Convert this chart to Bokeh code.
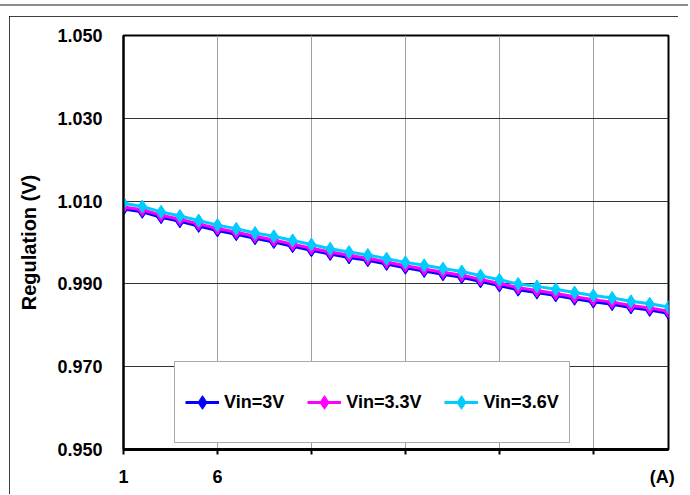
from bokeh.plotting import figure
from bokeh.models import Range1d, FixedTicker, Legend, LegendItem, LinearAxis
from bokeh.embed import file_html
from bokeh.resources import INLINE

# ---- data ----
load_current = list(range(1, 31))
vin_3v = [1.0081, 1.0074, 1.0061, 1.0051, 1.0040, 1.0029, 1.0020, 1.0010, 1.0001, 0.9991,
          0.9981, 0.9972, 0.9964, 0.9957, 0.9948, 0.9939, 0.9931, 0.9923, 0.9916, 0.9906,
          0.9896, 0.9886, 0.9879, 0.9872, 0.9864, 0.9857, 0.9851, 0.9843, 0.9837, 0.9829]
vin_33v = [1.0086, 1.0079, 1.0066, 1.0056, 1.0045, 1.0034, 1.0025, 1.0015, 1.0006, 0.9996,
           0.9986, 0.9977, 0.9969, 0.9962, 0.9953, 0.9944, 0.9936, 0.9928, 0.9921, 0.9911,
           0.9901, 0.9891, 0.9884, 0.9877, 0.9869, 0.9862, 0.9856, 0.9848, 0.9842, 0.9834]
vin_36v = [1.0095, 1.0087, 1.0074, 1.0064, 1.0053, 1.0042, 1.0033, 1.0023, 1.0015, 1.0005,
           0.9995, 0.9985, 0.9977, 0.9970, 0.9961, 0.9952, 0.9945, 0.9937, 0.9930, 0.9920,
           0.9910, 0.9900, 0.9894, 0.9887, 0.9879, 0.9872, 0.9866, 0.9858, 0.9852, 0.9844]
series_names = ["Vin=3V", "Vin=3.3V", "Vin=3.6V"]
series_colors = ["#0000FF", "#FF00FF", "#00CCFF"]
y_ticks = [0.950, 0.970, 0.990, 1.010, 1.030, 1.050]
y_tick_labels = ["0.950", "0.970", "0.990", "1.010", "1.030", "1.050"]
x_ticks = [1, 6, 11, 16, 21, 26]
x_label_pos = [1, 6, 29.67]
x_label_text = ["1", "6", "(A)"]
y_axis_title = "Regulation (V)"

FONT = "Liberation Sans"

p = figure(width=669, height=478, output_backend="svg", toolbar_location=None,
           x_range=Range1d(1, 30), y_range=Range1d(0.95, 1.05),
           min_border_left=114, min_border_right=10, min_border_top=19, min_border_bottom=45)
p.margin = (16, 0, 0, 9)
p.styles = {"outline": "2px solid black", "outline-offset": "-2px",
            "box-shadow": "0 0 0 10px white, 0 -2px 0 10px #8c8c8c"}
p.background_fill_color = "white"
p.border_fill_color = "white"
p.outline_line_color = "black"
p.outline_line_width = 2

# x axis: tick marks only
xa = p.xaxis[0]
xa.ticker = FixedTicker(ticks=x_ticks, minor_ticks=[])
xa.major_label_overrides = {t: "" for t in x_ticks}
xa.major_label_text_font_size = "1px"
xa.major_label_standoff = 0
xa.major_tick_out = 5
xa.major_tick_in = 0
xa.minor_tick_out = 0
xa.minor_tick_in = 0
xa.axis_line_width = 3
xa.axis_line_color = "black"
xa.major_tick_line_width = 2

# x labels axis (1, 6 and unit)
xb = LinearAxis(ticker=FixedTicker(ticks=x_label_pos, minor_ticks=[]))
xb.major_label_overrides = {t: l for t, l in zip(x_label_pos, x_label_text)}
xb.axis_line_color = None
xb.major_tick_line_color = None
xb.minor_tick_line_color = None
xb.major_tick_out = 0
xb.major_tick_in = 0
xb.major_label_standoff = 12
xb.major_label_text_font = FONT
xb.major_label_text_font_style = "bold"
xb.major_label_text_font_size = "18px"
xb.major_label_text_color = "black"
p.add_layout(xb, "below")

ya = p.yaxis[0]
ya.ticker = FixedTicker(ticks=y_ticks, minor_ticks=[])
ya.major_label_overrides = {t: l for t, l in zip(y_ticks, y_tick_labels)}
ya.major_tick_out = 0
ya.major_tick_in = 0
ya.minor_tick_out = 0
ya.minor_tick_in = 0
ya.axis_line_width = 2
ya.axis_line_color = "black"
ya.major_label_standoff = 21
ya.major_label_text_font = FONT
ya.major_label_text_font_style = "bold"
ya.major_label_text_font_size = "18px"
ya.major_label_text_color = "black"
ya.axis_label = y_axis_title
ya.axis_label_text_font = FONT
ya.axis_label_text_font_style = "bold"
ya.axis_label_text_font_size = "20px"
ya.axis_label_text_color = "black"
ya.axis_label_standoff = 14

# grids
p.xgrid.ticker = FixedTicker(ticks=x_ticks, minor_ticks=[])
p.xgrid.grid_line_color = "#a0a0a0"
p.xgrid.grid_line_width = 1
p.ygrid.ticker = FixedTicker(ticks=y_ticks, minor_ticks=[])
p.ygrid.grid_line_color = "#333333"
p.ygrid.grid_line_width = 1.2

# series
items = []
for name, col, ys in zip(series_names, series_colors, [vin_3v, vin_33v, vin_36v]):
    ln = p.line(load_current, ys, line_color=col, line_width=3)
    mk = p.scatter(load_current, ys, marker="diamond", size=13, fill_color=col, line_color=col)
    items.append(LegendItem(label=name, renderers=[ln, mk]))

legend = Legend(items=items, orientation="horizontal", location=(51, 6),
                glyph_width=34, glyph_height=60, label_height=60, label_standoff=5,
                spacing=23, padding=10, margin=0,
                border_line_color="#555555", border_line_width=1.5,
                background_fill_color="white", background_fill_alpha=1,
                label_text_font=FONT, label_text_font_style="bold",
                label_text_font_size="18px", label_text_color="black")
p.add_layout(legend)

open("out.html", "w").write(file_html(p, INLINE))
